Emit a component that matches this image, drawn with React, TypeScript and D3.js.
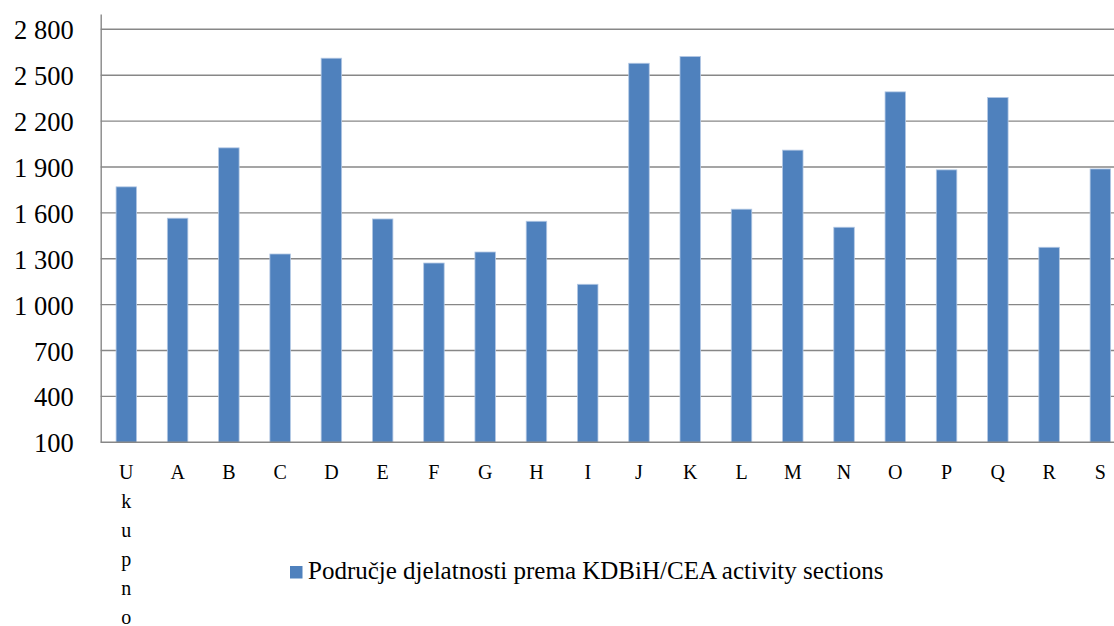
import React, { useEffect, useRef } from 'react';
import { axisBottom, axisLeft, scaleBand, scaleLinear, select } from 'd3';

// sections of the activity classification, first one is the total
const categories = ['Ukupno', 'A', 'B', 'C', 'D', 'E', 'F', 'G', 'H', 'I', 'J', 'K', 'L', 'M', 'N', 'O', 'P', 'Q', 'R', 'S'];
const values = [1770, 1565, 2025, 1331, 2611, 1560, 1272, 1344, 1545, 1133, 2578, 2622, 1624, 2010, 1506, 2391, 1881, 2354, 1375, 1887];
const yTicks = [100, 400, 700, 1000, 1300, 1600, 1900, 2200, 2500, 2800];
const seriesName = 'Područje djelatnosti prema KDBiH/CEA activity sections';

const W = 1114;
const H = 626;
const FONT = "'Liberation Serif', serif";

const App = () => {
    const svgRef = useRef<SVGSVGElement>(null);

    useEffect(() => {
        const svg = select(svgRef.current);
        svg.selectAll('*').remove();

        const left = 100.7;
        const bottom = 442.3;

        const x = scaleBand<string>()
            .domain(categories)
            .range([left, 1126])
            .paddingInner(0.6)
            .paddingOuter(0.3);

        const y = scaleLinear().domain([100, 2900]).range([bottom, 14]);

        // grid lines
        svg.append('g')
            .selectAll('line')
            .data(yTicks.filter(d => d > 100))
            .join('line')
            .attr('x1', left)
            .attr('x2', W)
            .attr('y1', d => y(d))
            .attr('y2', d => y(d))
            .attr('stroke', '#878787')
            .attr('stroke-width', 1.4);

        // bars
        svg.append('g')
            .selectAll('rect')
            .data(values)
            .join('rect')
            .attr('x', (d, i) => x(categories[i])!)
            .attr('width', x.bandwidth())
            .attr('y', d => y(d))
            .attr('height', d => bottom - y(d))
            .attr('fill', '#4f81bd')
            .attr('stroke', '#b3c8e4')
            .attr('stroke-width', 0.8);

        // y axis
        const yAxis = axisLeft(y)
            .tickValues(yTicks)
            .tickSize(0)
            .tickPadding(27)
            .tickFormat(d => String(d).replace(/\B(?=(\d{3})+(?!\d))/g, ' '));

        const gy = svg.append('g')
            .attr('transform', `translate(${left},0)`)
            .call(yAxis)
            .attr('font-family', null);
        gy.select('.domain').attr('stroke', '#878787').attr('stroke-width', 1.4);
        gy.selectAll('text')
            .style('font-family', FONT)
            .style('font-size', '26.5px')
            .attr('fill', '#000')
            .attr('dy', '0.36em');

        // x axis
        const xAxis = axisBottom(x).tickSize(0).tickPadding(0);
        const gx = svg.append('g')
            .attr('transform', `translate(0,${bottom})`)
            .call(xAxis)
            .attr('font-family', null);
        gx.select('.domain').attr('stroke', '#878787').attr('stroke-width', 1.4).attr('d', `M${left},0H${W}`);
        gx.selectAll<SVGTextElement, string>('text')
            .style('font-family', FONT)
            .style('font-size', '20px')
            .attr('fill', '#000')
            .attr('y', 37)
            .attr('dy', null)
            .each(function (d) {
                // narrow band: long label wraps one letter per line
                if (d.length > 1) {
                    const t = select(this);
                    t.text(null);
                    d.split('').forEach((ch, i) => {
                        t.append('tspan').attr('x', 0).attr('y', 37 + i * 29).text(ch);
                    });
                }
            });

        // legend
        const lg = svg.append('g');
        lg.append('rect')
            .attr('x', 290)
            .attr('y', 566)
            .attr('width', 12.5)
            .attr('height', 12.5)
            .attr('fill', '#4f81bd');
        lg.append('text')
            .attr('x', 308)
            .attr('y', 578.5)
            .style('font-family', FONT)
            .style('font-size', '25px')
            .attr('fill', '#000')
            .text(seriesName);
    }, []);

    return (
        <svg
            ref={svgRef}
            width={W}
            height={H}
            style={{ position: 'absolute', left: 0, top: 0, background: '#fff' }}
        />
    );
};

export default App;
